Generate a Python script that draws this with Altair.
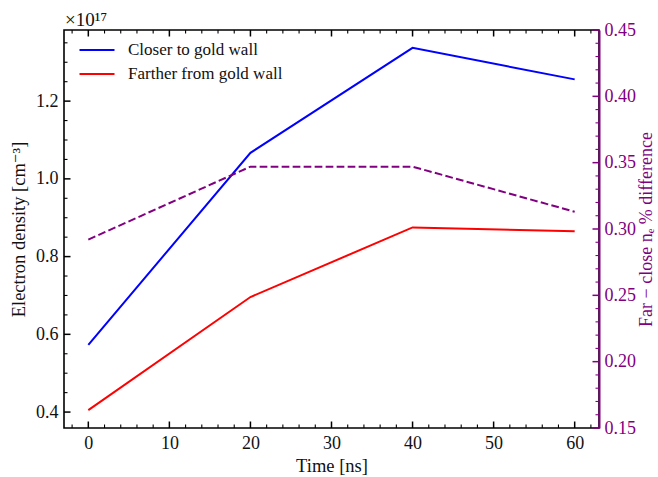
import altair as alt
import pandas as pd

# ---- data ----
time_ns = [0, 20, 40, 60]
closer = [0.573, 1.067, 1.337, 1.256]      # x1e17 cm^-3
farther = [0.405, 0.696, 0.875, 0.865]     # x1e17 cm^-3
pct_diff = [0.292, 0.347, 0.347, 0.313]    # right axis
series_names = ["Closer to gold wall", "Farther from gold wall"]
offset_text = "×10¹⁷"

# tick positions
x_major = [0, 10, 20, 30, 40, 50, 60]
x_minor = [-2, 2, 4, 6, 8, 12, 14, 16, 18, 22, 24, 26, 28, 32, 34, 36, 38,
           42, 44, 46, 48, 52, 54, 56, 58, 62]
yl_major = [0.4, 0.6, 0.8, 1.0, 1.2]
yl_minor = [0.45, 0.5, 0.55, 0.65, 0.7, 0.75, 0.85, 0.9, 0.95, 1.05, 1.1,
            1.15, 1.25, 1.3, 1.35]
yr_major = [0.15, 0.2, 0.25, 0.3, 0.35, 0.4, 0.45]
yr_minor = [0.16, 0.17, 0.18, 0.19, 0.21, 0.22, 0.23, 0.24, 0.26, 0.27, 0.28,
            0.29, 0.31, 0.32, 0.33, 0.34, 0.36, 0.37, 0.38, 0.39, 0.41, 0.42,
            0.43, 0.44]

W, H = 535, 398
FONT = "Liberation Serif, DejaVu Serif, serif"
PURPLE = "#800080"
INK = "#111111"
MAJ, MIN = 6.5, 3.5
TICKFS, TITLEFS, LEGFS = 18, 18.5, 17

dens = pd.DataFrame({
    "time": time_ns * 2,
    "density": closer + farther,
    "series": [series_names[0]] * len(time_ns) + [series_names[1]] * len(time_ns),
})
diff = pd.DataFrame({"time": time_ns, "diff": pct_diff})

xscale = alt.Scale(domain=[-3, 63], nice=False, zero=False)
ylscale = alt.Scale(domain=[0.359, 1.383], nice=False, zero=False)
yrscale = alt.Scale(domain=[0.15, 0.45], nice=False, zero=False)

lines = alt.Chart(dens).mark_line(strokeWidth=2).encode(
    x=alt.X("time:Q", scale=xscale,
            axis=alt.Axis(values=x_major, format="d", ticks=False, grid=False,
                          domain=False, title="Time [ns]", labelPadding=6,
                          titlePadding=4, labelFont=FONT, titleFont=FONT,
                          labelFontSize=TICKFS, titleFontSize=TITLEFS)),
    y=alt.Y("density:Q", scale=ylscale,
            axis=alt.Axis(values=yl_major, format=".1f", ticks=False, grid=False,
                          domain=False, orient="left",
                          title="Electron density [cm⁻³]", labelPadding=6,
                          titlePadding=7, labelFont=FONT, titleFont=FONT,
                          labelFontSize=TICKFS, titleFontSize=TITLEFS)),
    color=alt.Color("series:N",
                    scale=alt.Scale(domain=series_names, range=["#0000ff", "#ff0000"]),
                    legend=alt.Legend(title=None, orient="none", legendX=24.5,
                                      legendY=11.5, symbolType="M-2.5,0H2.5",
                                      symbolSize=196, symbolStrokeWidth=2,
                                      labelFontSize=LEGFS, labelFont=FONT,
                                      labelColor=INK, labelOffset=22.5,
                                      rowPadding=6, padding=0)),
)

purple = alt.Chart(diff).mark_line(strokeWidth=2, color=PURPLE,
                                   strokeDash=[7.7, 3.3]).encode(
    x=alt.X("time:Q", scale=xscale, axis=None),
    y=alt.Y("diff:Q", scale=yrscale,
            axis=alt.Axis(values=yr_major, format=".2f", ticks=False, grid=False,
                          domain=True, domainColor=PURPLE, domainWidth=2,
                          orient="right", labelColor=PURPLE, titleColor=PURPLE,
                          title="Far − close nₑ % difference", titleAngle=270,
                          titleBaseline="top", labelPadding=5, titlePadding=2,
                          labelFont=FONT, titleFont=FONT,
                          labelFontSize=TICKFS, titleFontSize=18)),
)


def yticks(values, scale, x0, x1, color, width):
    return alt.Chart(pd.DataFrame({"v": values})).mark_rule(
        color=color, strokeWidth=width).encode(
        y=alt.Y("v:Q", scale=scale, axis=None),
        x=alt.value(x0), x2=alt.value(x1))


def xticks(values, y0, y1, width):
    return alt.Chart(pd.DataFrame({"v": values})).mark_rule(
        color="black", strokeWidth=width).encode(
        x=alt.X("v:Q", scale=xscale, axis=None),
        y=alt.value(y0), y2=alt.value(y1))


# scientific offset label above the left axis
offset_label = alt.Chart(pd.DataFrame({"t": [offset_text]})).mark_text(
    align="left", baseline="alphabetic", font=FONT, fontSize=19, color=INK
).encode(text="t:N", x=alt.value(1), y=alt.value(-4))

layers = [
    lines, purple,
    yticks(yl_major, ylscale, 0, MAJ, "black", 1.5),
    yticks(yl_minor, ylscale, 0, MIN, "black", 1.1),
    yticks(yr_major, yrscale, W - MAJ, W, PURPLE, 1.5),
    yticks(yr_minor, yrscale, W - MIN, W, PURPLE, 1.1),
    xticks(x_major, H - MAJ, H, 1.5),
    xticks(x_minor, H - MIN, H, 1.1),
    xticks(x_major, 0, MAJ, 1.5),
    xticks(x_minor, 0, MIN, 1.1),
    offset_label,
]

chart = alt.layer(*layers).resolve_scale(
    y="independent"
).resolve_axis(
    x="independent", y="independent"
).properties(
    width=W, height=H,
    autosize=alt.AutoSizeParams(type="none"),
    padding={"left": 64, "top": 30, "right": 59, "bottom": 49},
).configure_view(
    stroke="black", strokeWidth=1.6
).configure_axis(
    labelFont=FONT, titleFont=FONT, labelFontSize=TICKFS, titleFontSize=TITLEFS,
    titleFontWeight="normal", labelColor=INK, titleColor=INK,
)

chart.save("out.html", embed_options={"renderer": "svg", "actions": False})
